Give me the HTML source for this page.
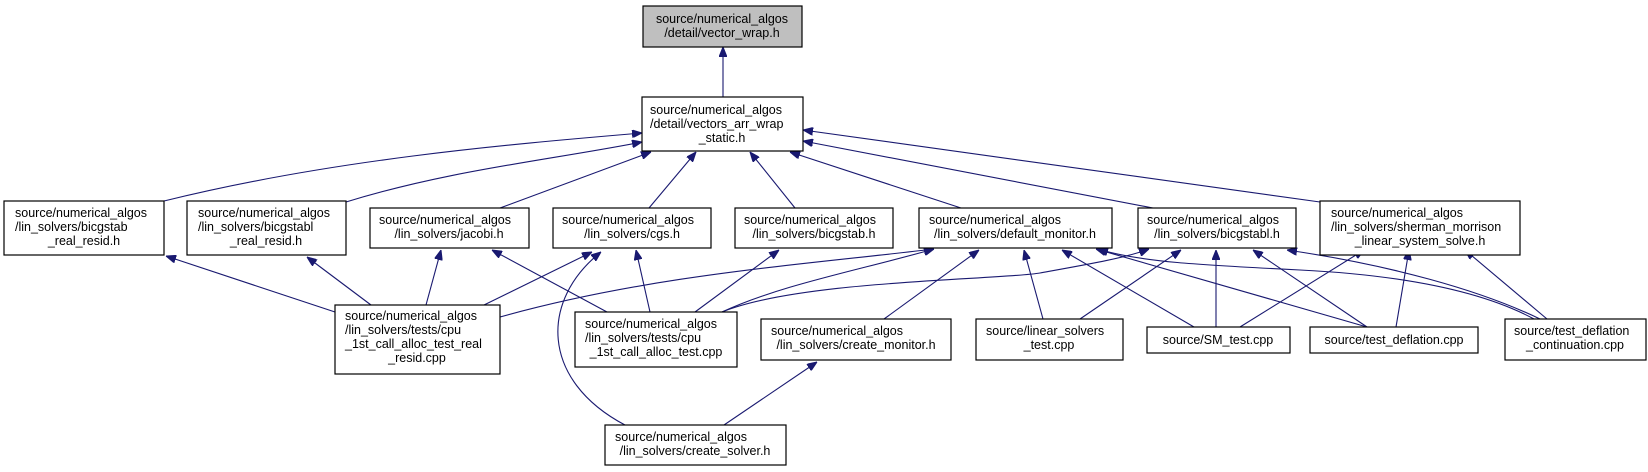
<!DOCTYPE html>
<html><head><meta charset="utf-8"><style>
html,body{margin:0;padding:0;background:#fff;}
svg{display:block;}
text{font-family:"Liberation Sans",Arial,sans-serif;font-size:12.5px;fill:#000;}
.b{fill:#fff;stroke:#000;stroke-width:1.2;}
.e{fill:none;stroke:#191970;stroke-width:1.1;}
</style></head><body>
<svg width="1648" height="472" viewBox="0 0 1648 472" xmlns="http://www.w3.org/2000/svg">
<defs><marker id="a" viewBox="0 0 10 8" refX="10" refY="4" markerWidth="10" markerHeight="8" markerUnits="userSpaceOnUse" orient="auto"><path d="M0,0 L10,4 L0,8 z" fill="#191970" stroke="#191970"/></marker></defs>

<!-- edges -->
<g class="e" marker-end="url(#a)">
<path d="M723,97 L723,47"/>
<path d="M164,201 C330,160 500,145 642,133"/>
<path d="M346,202 C450,170 550,160 642,142"/>
<path d="M500,208 L651,152"/>
<path d="M649,208 L696,152"/>
<path d="M795,208 L750,152"/>
<path d="M961,208 L790,152"/>
<path d="M1153,208 L803,141"/>
<path d="M1320,202 L803,130"/>
<path d="M335,312 L166,256"/>
<path d="M371,305 L307,257"/>
<path d="M426,305 L441,250"/>
<path d="M484,305 L592,252"/>
<path d="M500,317 C650,275 800,265 934,249"/>
<path d="M607,312 L492,250"/>
<path d="M650,312 L636,250"/>
<path d="M695,312 L779,250"/>
<path d="M722,312 C780,285 860,270 934,249"/>
<path d="M722,312 C800,280 1000,280 1040,273 C1090,264 1125,258 1149,249"/>
<path d="M625,425 C540,380 540,300 601,252"/>
<path d="M724,425 L817,362"/>
<path d="M884,319 L979,250"/>
<path d="M1043,319 L1024,250"/>
<path d="M1080,319 L1181,250"/>
<path d="M1194,327 L1062,250"/>
<path d="M1216,327 L1216,250"/>
<path d="M1240,327 L1364,250"/>
<path d="M1367,327 L1096,249"/>
<path d="M1367,327 L1253,250"/>
<path d="M1396,327 L1409,250"/>
<path d="M1534,319 C1480,290 1400,275 1300,270 C1200,265 1140,262 1098,249"/>
<path d="M1540,319 C1480,290 1390,265 1287,250"/>
<path d="M1547,319 L1465,250"/>
</g>

<!-- nodes -->
<rect x="643" y="6" width="159" height="41" fill="#bfbfbf" stroke="#000" stroke-width="1.2"/>
<text x="722" y="23" text-anchor="middle">source/numerical_algos</text>
<text x="722" y="37" text-anchor="middle">/detail/vector_wrap.h</text>

<rect class="b" x="642" y="97" width="161" height="54"/>
<text x="650" y="114">source/numerical_algos</text>
<text x="650" y="128">/detail/vectors_arr_wrap</text>
<text x="722" y="142" text-anchor="middle">_static.h</text>

<rect class="b" x="4" y="201" width="160" height="54"/>
<text x="15" y="217">source/numerical_algos</text>
<text x="15" y="231">/lin_solvers/bicgstab</text>
<text x="84" y="245" text-anchor="middle">_real_resid.h</text>

<rect class="b" x="187" y="201" width="159" height="54"/>
<text x="198" y="217">source/numerical_algos</text>
<text x="198" y="231">/lin_solvers/bicgstabl</text>
<text x="266" y="245" text-anchor="middle">_real_resid.h</text>

<rect class="b" x="370" y="208" width="159" height="40"/>
<text x="379" y="224">source/numerical_algos</text>
<text x="449" y="238" text-anchor="middle">/lin_solvers/jacobi.h</text>

<rect class="b" x="553" y="208" width="158" height="40"/>
<text x="562" y="224">source/numerical_algos</text>
<text x="632" y="238" text-anchor="middle">/lin_solvers/cgs.h</text>

<rect class="b" x="735" y="208" width="158" height="40"/>
<text x="744" y="224">source/numerical_algos</text>
<text x="814" y="238" text-anchor="middle">/lin_solvers/bicgstab.h</text>

<rect class="b" x="919" y="208" width="193" height="40"/>
<text x="929" y="224">source/numerical_algos</text>
<text x="1015" y="238" text-anchor="middle">/lin_solvers/default_monitor.h</text>

<rect class="b" x="1138" y="208" width="158" height="40"/>
<text x="1147" y="224">source/numerical_algos</text>
<text x="1217" y="238" text-anchor="middle">/lin_solvers/bicgstabl.h</text>

<rect class="b" x="1320" y="201" width="200" height="54"/>
<text x="1331" y="217">source/numerical_algos</text>
<text x="1331" y="231">/lin_solvers/sherman_morrison</text>
<text x="1420" y="245" text-anchor="middle">_linear_system_solve.h</text>

<rect class="b" x="335" y="305" width="165" height="69"/>
<text x="345" y="320">source/numerical_algos</text>
<text x="345" y="334">/lin_solvers/tests/cpu</text>
<text x="345" y="348">_1st_call_alloc_test_real</text>
<text x="417" y="362" text-anchor="middle">_resid.cpp</text>

<rect class="b" x="575" y="312" width="162" height="55"/>
<text x="585" y="328">source/numerical_algos</text>
<text x="585" y="342">/lin_solvers/tests/cpu</text>
<text x="656" y="356" text-anchor="middle">_1st_call_alloc_test.cpp</text>

<rect class="b" x="761" y="319" width="190" height="41"/>
<text x="771" y="335">source/numerical_algos</text>
<text x="856" y="349" text-anchor="middle">/lin_solvers/create_monitor.h</text>

<rect class="b" x="976" y="319" width="147" height="41"/>
<text x="986" y="335">source/linear_solvers</text>
<text x="1049" y="349" text-anchor="middle">_test.cpp</text>

<rect class="b" x="1147" y="327" width="143" height="26"/>
<text x="1218" y="344" text-anchor="middle">source/SM_test.cpp</text>

<rect class="b" x="1310" y="327" width="168" height="26"/>
<text x="1394" y="344" text-anchor="middle">source/test_deflation.cpp</text>

<rect class="b" x="1505" y="319" width="141" height="41"/>
<text x="1514" y="335">source/test_deflation</text>
<text x="1575" y="349" text-anchor="middle">_continuation.cpp</text>

<rect class="b" x="605" y="425" width="181" height="40"/>
<text x="615" y="441">source/numerical_algos</text>
<text x="695" y="455" text-anchor="middle">/lin_solvers/create_solver.h</text>
</svg>
</body></html>
